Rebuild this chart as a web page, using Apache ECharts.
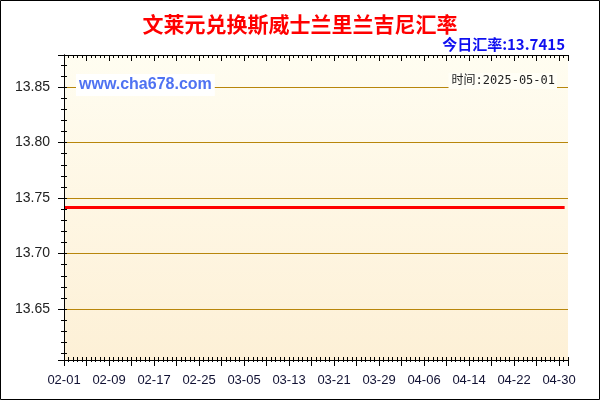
<!DOCTYPE html>
<html>
<head>
<meta charset="utf-8">
<script src="https://cdn.jsdelivr.net/npm/echarts@6/dist/echarts.min.js"></script>
<style>html,body{margin:0;padding:0;background:#fff}#c{width:600px;height:400px}</style>
</head>
<body>
<div id="c"></div>
<script>
var titleText = '文莱元兑换斯威士兰里兰吉尼汇率';
var todayText = '今日汇率:13.7415';
var siteText = 'www.cha678.com';
var timeText = '时间:2025-05-01';
var tickLabels = ['02-01','02-09','02-17','02-25','03-05','03-13','03-21','03-29','04-06','04-14','04-22','04-30'];
// one value per day, 02-01 .. 05-01 (90 days)
var rates = [
13.7415,13.7415,13.7415,13.7415,13.7415,13.7415,13.7415,13.7415,13.7415,13.7415,
13.7415,13.7415,13.7415,13.7415,13.7415,13.7415,13.7415,13.7415,13.7415,13.7415,
13.7415,13.7415,13.7415,13.7415,13.7415,13.7415,13.7415,13.7415,13.7415,13.7415,
13.7415,13.7415,13.7415,13.7415,13.7415,13.7415,13.7415,13.7415,13.7415,13.7415,
13.7415,13.7415,13.7415,13.7415,13.7415,13.7415,13.7415,13.7415,13.7415,13.7415,
13.7415,13.7415,13.7415,13.7415,13.7415,13.7415,13.7415,13.7415,13.7415,13.7415,
13.7415,13.7415,13.7415,13.7415,13.7415,13.7415,13.7415,13.7415,13.7415,13.7415,
13.7415,13.7415,13.7415,13.7415,13.7415,13.7415,13.7415,13.7415,13.7415,13.7415,
13.7415,13.7415,13.7415,13.7415,13.7415,13.7415,13.7415,13.7415,13.7415,13.7415
];
var yMin = 13.6041, yMax = 13.8789;
var xMax = 89.6;

var seriesData = rates.map(function (v, i) { return [i, v]; });
var chart = echarts.init(document.getElementById('c'));
var numFont = 'Liberation Sans, Arial, sans-serif';
function xBase(extra) {
  return Object.assign({
    type: 'value', min: 0, max: xMax, interval: 4, gridIndex: 0,
    splitLine: { show: false }, axisLabel: { show: false },
    axisLine: { show: false }, z: 3
  }, extra);
}
function yBase(extra) {
  return Object.assign({
    type: 'value', min: yMin, max: yMax, splitNumber: 5, scale: true,
    splitLine: { show: false }, axisLabel: { show: false },
    axisLine: { show: false }, z: 3
  }, extra);
}
chart.setOption({
  animation: false,
  backgroundColor: '#ffffff',
  grid: {
    left: 64, right: 32, top: 55, bottom: 40, show: true, borderWidth: 0,
    backgroundColor: { type: 'linear', x: 0, y: 0, x2: 0, y2: 1,
      colorStops: [{ offset: 0, color: '#fffdf1' }, { offset: 1, color: '#fdf0d6' }] }
  },
  xAxis: [
    xBase({
      position: 'bottom',
      axisLine: { show: true, lineStyle: { color: '#000', width: 1 } },
      axisTick: { show: true, inside: false, length: 6, lineStyle: { color: '#000' } },
      minorTick: { show: true, splitNumber: 5, length: 2, lineStyle: { color: '#000' } },
      axisLabel: {
        show: true, margin: 14, fontSize: 13, color: '#111133', fontFamily: numFont,
        showMinLabel: true, showMaxLabel: false,
        formatter: function (v) { return (v % 8 === 0) ? (tickLabels[v / 8] || '') : ''; }
      }
    }),
    xBase({
      position: 'bottom',
      axisTick: { show: true, inside: true, length: 3, lineStyle: { color: '#000' } },
      minorTick: { show: true, splitNumber: 5, length: 3, lineStyle: { color: '#000' } }
    }),
    xBase({
      position: 'top',
      axisLine: { show: true, lineStyle: { color: '#000', width: 1 } },
      axisTick: { show: true, inside: true, length: 6, lineStyle: { color: '#000' } },
      minorTick: { show: true, splitNumber: 5, length: 3, lineStyle: { color: '#000' } }
    })
  ],
  yAxis: [
    yBase({
      position: 'left',
      axisLine: { show: true, lineStyle: { color: '#000', width: 1 } },
      axisTick: { show: true, inside: false, length: 6, lineStyle: { color: '#000' } },
      minorTick: { show: true, splitNumber: 5, length: 3, lineStyle: { color: '#000' } },
      splitLine: { show: true, showMinLine: false, showMaxLine: false, lineStyle: { color: '#b8860b', width: 1 } },
      axisLabel: {
        show: true, margin: 14, fontSize: 14, color: '#222', fontFamily: numFont,
        showMinLabel: false, showMaxLabel: false,
        formatter: function (v) {
          var r = Math.round(v * 20) / 20;
          return Math.abs(r - v) < 1e-6 ? v.toFixed(2) : '';
        }
      }
    }),
    yBase({
      position: 'left',
      axisTick: { show: true, inside: true, length: 3, lineStyle: { color: '#000' } },
      minorTick: { show: true, splitNumber: 5, length: 3, lineStyle: { color: '#000' } }
    }),
    yBase({
      position: 'right',
      axisLine: { show: true, lineStyle: { color: '#000', width: 1 } },
      axisTick: { show: true, inside: true, length: 6, lineStyle: { color: '#000' } },
      minorTick: { show: true, splitNumber: 5, length: 3, lineStyle: { color: '#000' } }
    })
  ],
  series: [{
    type: 'line', xAxisIndex: 0, yAxisIndex: 0, data: seriesData,
    showSymbol: false, symbol: 'none',
    lineStyle: { color: '#ff0000', width: 3 }, z: 2
  }],
  graphic: [
    { type: 'rect', z: 200, silent: true,
      shape: { x: 0.5, y: 0.5, width: 599, height: 399 },
      style: { fill: 'none', stroke: '#000', lineWidth: 1 } },
    { type: 'text', z: 100, x: 300, y: 24,
      style: { text: titleText, fill: '#ff0000', align: 'center', verticalAlign: 'middle',
        font: 'bold 21px "Noto Sans CJK SC", sans-serif' } },
    { type: 'text', z: 100, x: 565, y: 44,
      style: { text: todayText, fill: '#1010f0', align: 'right', verticalAlign: 'middle',
        font: 'bold 15px "Noto Sans CJK SC", "Liberation Sans", sans-serif' } },
    { type: 'text', z: 100, x: 76, y: 85,
      style: { text: siteText, fill: '#4f72f2', align: 'left', verticalAlign: 'middle',
        font: 'bold 16px "Liberation Sans", Arial, sans-serif',
        backgroundColor: '#ffffff', padding: [3, 3, 3, 3] } },
    { type: 'text', z: 100, x: 557, y: 81,
      style: { text: timeText, fill: '#222', align: 'right', verticalAlign: 'middle',
        font: '12px "DejaVu Sans Mono", "Noto Sans CJK SC", monospace',
        backgroundColor: '#fffef6', padding: [2, 2, 2, 3] } }
  ]
});
</script>
</body>
</html>
